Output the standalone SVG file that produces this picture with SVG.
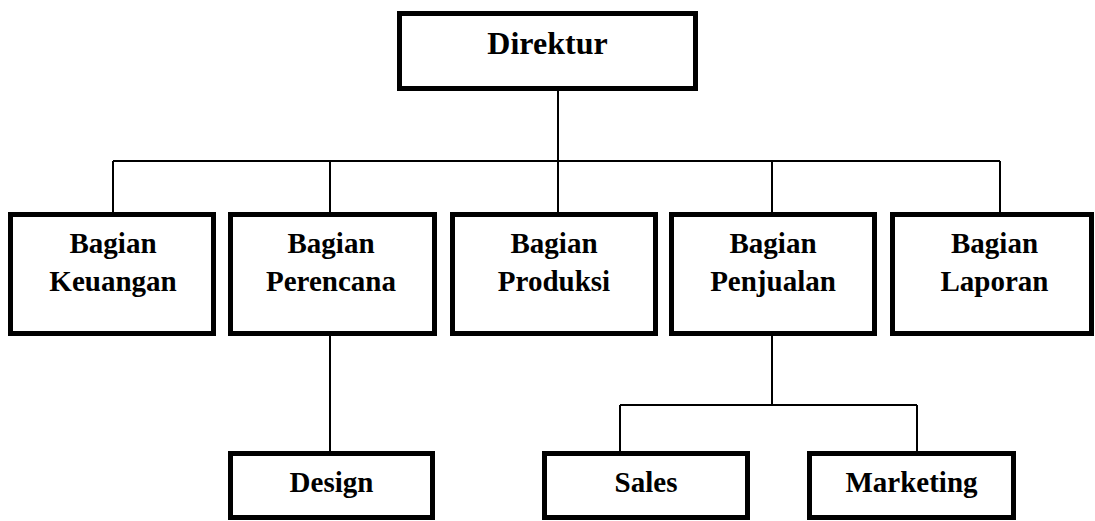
<svg xmlns="http://www.w3.org/2000/svg" width="1095" height="521" viewBox="0 0 1095 521">
<style>
.box{fill:#fff;stroke:#000;stroke-width:5}
.lbl{font-family:"Liberation Serif","Times New Roman",serif;font-weight:bold;font-size:29px;fill:#000;text-anchor:middle}
.big{font-size:32px}
.con{fill:none;stroke:#000;stroke-width:2}
</style>
<rect width="1095" height="521" fill="#fff"/>
<g id="connectors">
<path class="con" d="M558 91V212"/>
<path class="con" d="M113 161H1000"/>
<path class="con" d="M113 161V212M330 161V212M772 161V212M1000 161V212"/>
<path class="con" d="M330 336V451"/>
<path class="con" d="M772 336V405M620 405H917M620 405V451M917 405V451"/>
</g>
<g id="direktur"><rect class="box" x="399.5" y="13.5" width="296" height="75"/><text class="lbl big" x="547.5" y="54">Direktur</text></g>
<g id="keuangan"><rect class="box" x="10.5" y="214.5" width="203" height="119"/><text class="lbl" x="113" y="253">Bagian</text><text class="lbl" x="113" y="291">Keuangan</text></g>
<g id="perencana"><rect class="box" x="230.5" y="214.5" width="204" height="119"/><text class="lbl" x="331" y="253">Bagian</text><text class="lbl" x="331" y="291">Perencana</text></g>
<g id="produksi"><rect class="box" x="452.5" y="214.5" width="203" height="119"/><text class="lbl" x="554" y="253">Bagian</text><text class="lbl" x="554" y="291">Produksi</text></g>
<g id="penjualan"><rect class="box" x="671.5" y="214.5" width="203" height="119"/><text class="lbl" x="773" y="253">Bagian</text><text class="lbl" x="773" y="291">Penjualan</text></g>
<g id="laporan"><rect class="box" x="892.5" y="214.5" width="199" height="119"/><text class="lbl" x="994.5" y="253">Bagian</text><text class="lbl" x="994.5" y="291">Laporan</text></g>
<g id="design"><rect class="box" x="230.5" y="453.5" width="202" height="64"/><text class="lbl" x="331.5" y="492">Design</text></g>
<g id="sales"><rect class="box" x="544.5" y="453.5" width="203" height="64"/><text class="lbl" x="646" y="492">Sales</text></g>
<g id="marketing"><rect class="box" x="809.5" y="453.5" width="204" height="64"/><text class="lbl" x="911.5" y="492">Marketing</text></g>
</svg>
